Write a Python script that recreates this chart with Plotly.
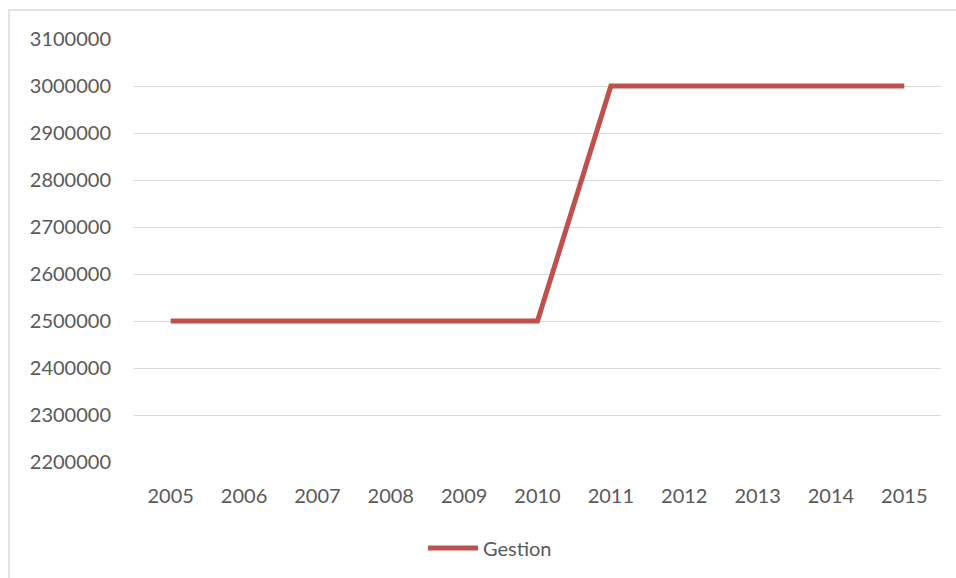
import plotly.graph_objects as go

years = ["2005", "2006", "2007", "2008", "2009", "2010", "2011", "2012", "2013", "2014", "2015"]
gestion = [2500000, 2500000, 2500000, 2500000, 2500000, 2500000, 3000000, 3000000, 3000000, 3000000, 3000000]
y_ticks = [2200000, 2300000, 2400000, 2500000, 2600000, 2700000, 2800000, 2900000, 3000000, 3100000]

W, H = 956, 578
ml, mr, mt, mb = 134, 15, 39, 115
pw, ph = W - ml - mr, H - mt - mb

def px(x):
    return (x - ml) / pw

def py(y):
    return (H - mb - y) / ph

font = "Lato, 'Open Sans', sans-serif"
grey = "#595959"
fs = 20

fig = go.Figure()
fig.add_trace(go.Scatter(
    x=years, y=gestion, mode="lines", name="Gestion",
    line=dict(color="#C0504D", width=5),
))

fig.update_layout(
    width=W, height=H,
    margin=dict(l=ml, r=mr, t=mt, b=mb),
    paper_bgcolor="white", plot_bgcolor="white",
    font=dict(family=font, size=fs, color=grey),
    showlegend=True,
    legend=dict(orientation="h", x=px(490), y=py(548), xanchor="center", yanchor="middle",
                font=dict(size=fs, color=grey), itemwidth=50),
    xaxis=dict(type="category", range=[-0.5, len(years) - 0.5], showgrid=False, showline=False, ticks="",
               ticklabelstandoff=20, tickfont=dict(size=fs, color=grey)),
    yaxis=dict(range=[2200000, 3100000], tickvals=y_ticks, ticktext=[str(v) for v in y_ticks],
               showgrid=True, gridcolor="#D9D9D9", gridwidth=1, zeroline=False,
               showline=False, ticks="", ticklabelstandoff=22, tickfont=dict(size=fs, color=grey)),
    shapes=[dict(type="rect", xref="paper", yref="paper",
                 x0=px(9), x1=px(1100), y0=py(700), y1=py(10),
                 line=dict(color="#D9D9D9", width=1.5), fillcolor="rgba(0,0,0,0)", layer="below")],
)

fig.write_html("out.html")
